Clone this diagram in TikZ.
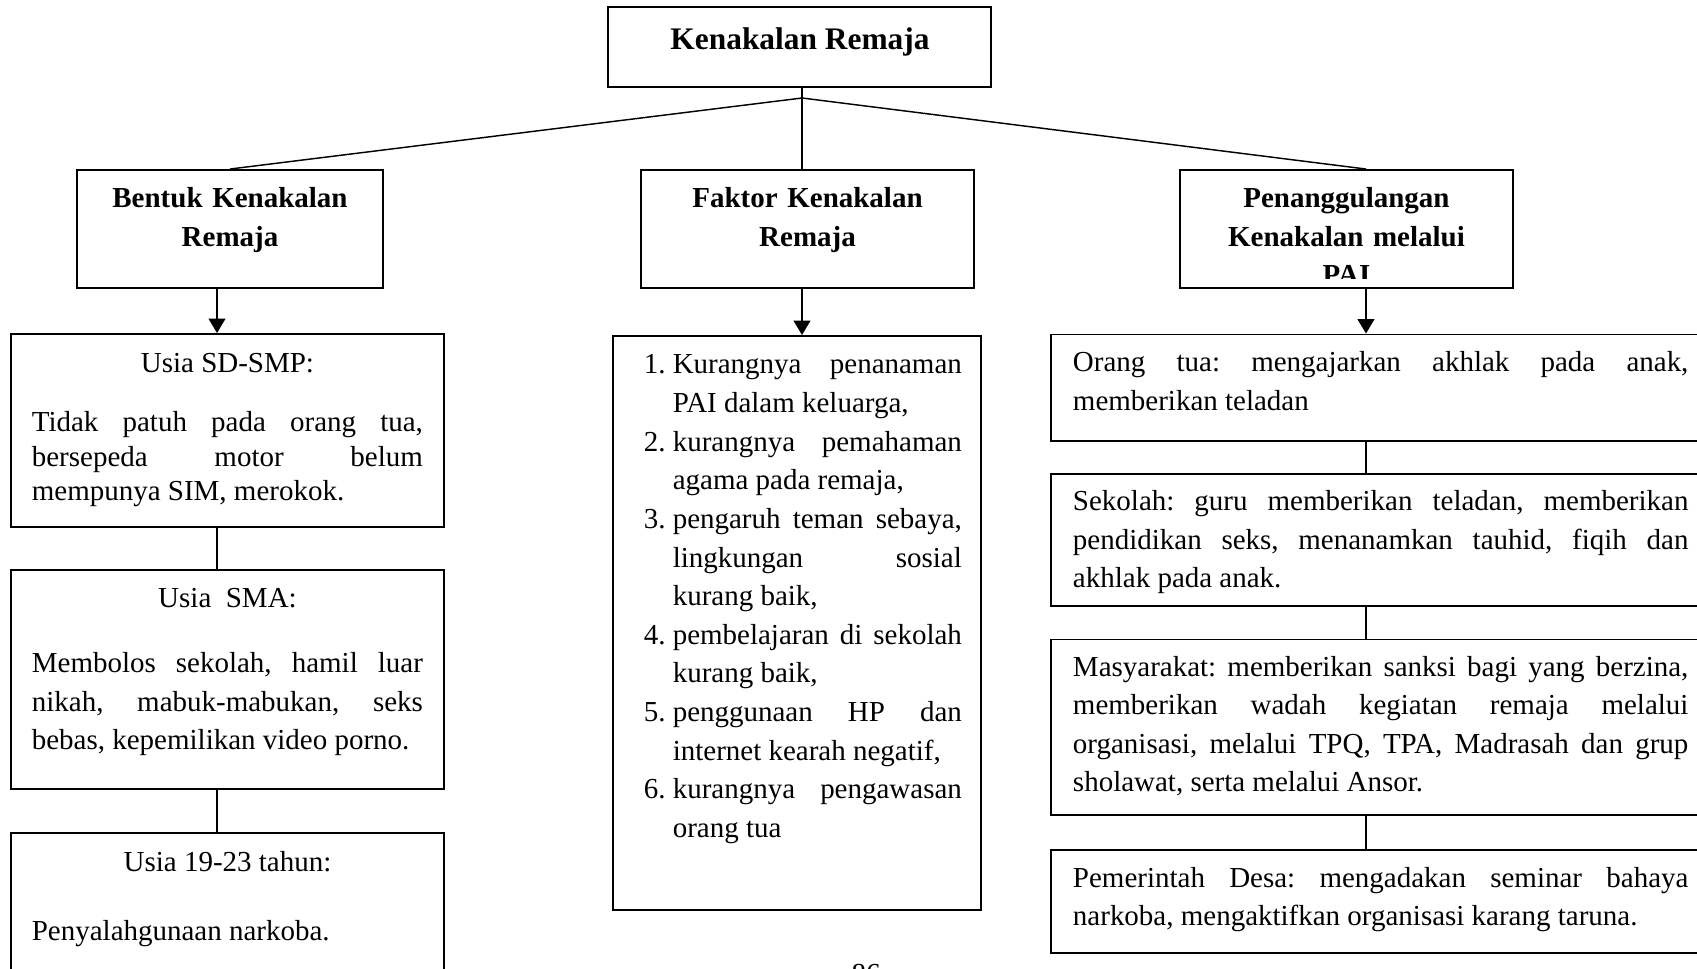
\documentclass[tikz,border=0pt]{standalone}
\usepackage{fontspec}
\setmainfont{Liberation Serif}
\usetikzlibrary{arrows.meta,fit}

\hyphenpenalty=10000
\exhyphenpenalty=10000
\tolerance=10000
\frenchspacing

\newcommand{\faktoritem}[2]{\hangindent=12pt\hangafter=1\makebox[12pt][l]{#1.}#2\par}

\begin{document}
\begin{tikzpicture}[x=0.414pt, y=-0.414pt,
    kotak/.style={draw, line width=0.8pt, inner sep=0pt},
    judul/.style={font=\fontsize{13}{16}\selectfont\bfseries, inner sep=0pt, anchor=base},
    kepala/.style={font=\fontsize{12}{16}\selectfont\bfseries, text width=124pt, align=center, inner sep=0pt, anchor=base},
    usia/.style={font=\fontsize{12}{16}\selectfont, inner sep=0pt, anchor=base},
    isi/.style={font=\fontsize{12}{16}\selectfont, align=justify, inner sep=0pt, anchor=base west},
    garis/.style={line width=0.6pt},
    panah/.style={line width=0.6pt, -{Triangle[length=6pt,width=7pt]}}]

    % Page frame, everything outside is cut off
    \useasboundingbox (0,0) rectangle (1697,969);
    \clip (0,0) rectangle (1697,969);

    % Top box
    \node[kotak, fit={(608,7) (991,87)}] (induk) {};
    \node[judul] (indukteks) at (800,49.3) {Kenakalan Remaja};

    % Second row
    \node[kotak, fit={(77,170) (383,288)}] (bentuk) {};
    \node[kotak, fit={(641,170) (974,288)}] (faktor) {};
    \node[kotak, fit={(1180,170) (1513,288)}] (tanggulang) {};
    \node[kepala] (bentukteks) at (230,207.5) {Bentuk Kenakalan\\Remaja};
    \node[kepala] (faktorteks) at (807.5,207.5) {Faktor Kenakalan\\Remaja};
    \begin{scope}
        \clip (1181,171) rectangle (1512,278);
        \node[kepala] (tanggulangteks) at (1346.5,207.5) {Penanggulangan\\Kenakalan melalui\\PAI};
    \end{scope}

    % Branch lines from the top box
    \coordinate (apex) at (802,98);
    \coordinate (lspine) at (217,0);
    \coordinate (rspine) at (1366,0);
    \draw[garis] (induk.south -| apex) -- (apex);
    \draw[garis] (bentuk.north) -- (apex) -- (tanggulang.north -| rspine);
    \draw[garis] (apex) -- (faktor.north -| apex);

    % Left column: forms by age
    \node[kotak, fit={(11,334) (444,527)}] (sdsmp) {};
    \node[kotak, fit={(11,570) (444,789)}] (sma) {};
    \node[kotak, fit={(11,833) (444,1000)}] (muda) {};
    \node[usia] (sdsmpjudul) at (227.5,372.5) {Usia SD-SMP:};
    \node[isi, text width=161.9pt, font=\fontsize{12}{14.3}\selectfont] (sdsmpisi) at (31.4,431.5)
        {Tidak patuh pada orang tua,\linebreak bersepeda motor belum\linebreak mempunya SIM, merokok.};
    \node[usia] (smajudul) at (227.5,607.5) {Usia\ \ SMA:};
    \node[isi, text width=161.9pt] (smaisi) at (31.4,672.4)
        {Membolos sekolah, hamil luar\linebreak nikah, mabuk-mabukan, seks\linebreak bebas, kepemilikan video porno.};
    \node[usia] (mudajudul) at (227.5,871) {Usia 19-23 tahun:};
    \node[isi, text width=161.9pt] (mudaisi) at (31.4,940) {Penyalahgunaan narkoba.};

    % Middle column: list of factors
    \node[kotak, fit={(613,336) (981,910)}] (daftar) {};
    \node[isi, text width=131.7pt] (daftarisi) at (643.3,373.8) {%
        \faktoritem{1}{Kurangnya penanaman\linebreak PAI dalam keluarga,}%
        \faktoritem{2}{kurangnya pemahaman\linebreak agama pada remaja,}%
        \faktoritem{3}{pengaruh teman sebaya,\linebreak lingkungan sosial\linebreak kurang baik,}%
        \faktoritem{4}{pembelajaran di sekolah\linebreak kurang baik,}%
        \faktoritem{5}{penggunaan HP dan\linebreak internet kearah negatif,}%
        \faktoritem{6}{kurangnya pengawasan\linebreak orang tua}};

    % Right column: countermeasures
    \node[kotak, fit={(1051,334.5) (1710,441.3)}] (ortu) {};
    \node[kotak, fit={(1051,474) (1710,605.6)}] (sekolah) {};
    \node[kotak, fit={(1051,639.5) (1710,814.6)}] (masyarakat) {};
    \node[kotak, fit={(1051,849.8) (1710,953.3)}] (desa) {};
    \node[isi, text width=254.8pt] (ortuisi) at (1072.5,371.7)
        {Orang tua: mengajarkan akhlak pada anak,\linebreak memberikan teladan};
    \node[isi, text width=254.8pt] (sekolahisi) at (1072.5,510.4)
        {Sekolah: guru memberikan teladan, memberikan\linebreak pendidikan seks, menanamkan tauhid, fiqih dan\linebreak akhlak pada anak.};
    \node[isi, text width=254.8pt] (masyarakatisi) at (1072.5,676)
        {Masyarakat: memberikan sanksi bagi yang berzina,\linebreak memberikan wadah kegiatan remaja melalui\linebreak organisasi, melalui TPQ, TPA, Madrasah dan grup\linebreak sholawat, serta melalui Ansor.};
    \node[isi, text width=254.8pt] (desaisi) at (1072.5,887)
        {Pemerintah Desa: mengadakan seminar bahaya\linebreak narkoba, mengaktifkan organisasi karang taruna.};

    % Arrows down from the second row
    \draw[panah] (bentuk.south -| lspine) -- (sdsmp.north -| lspine);
    \draw[panah] (faktor.south -| apex) -- (daftar.north -| apex);
    \draw[panah] (tanggulang.south -| rspine) -- (ortu.north -| rspine);

    % Plain links inside the columns
    \foreach \a/\b in {sdsmp/sma, sma/muda} {
        \draw[garis] (\a.south -| lspine) -- (\b.north -| lspine);
    }
    \foreach \a/\b in {ortu/sekolah, sekolah/masyarakat, masyarakat/desa} {
        \draw[garis] (\a.south -| rspine) -- (\b.north -| rspine);
    }

    % Page number, cut by the lower edge
    \node[usia] (halaman) at (866,983) {86};

\end{tikzpicture}
\end{document}
